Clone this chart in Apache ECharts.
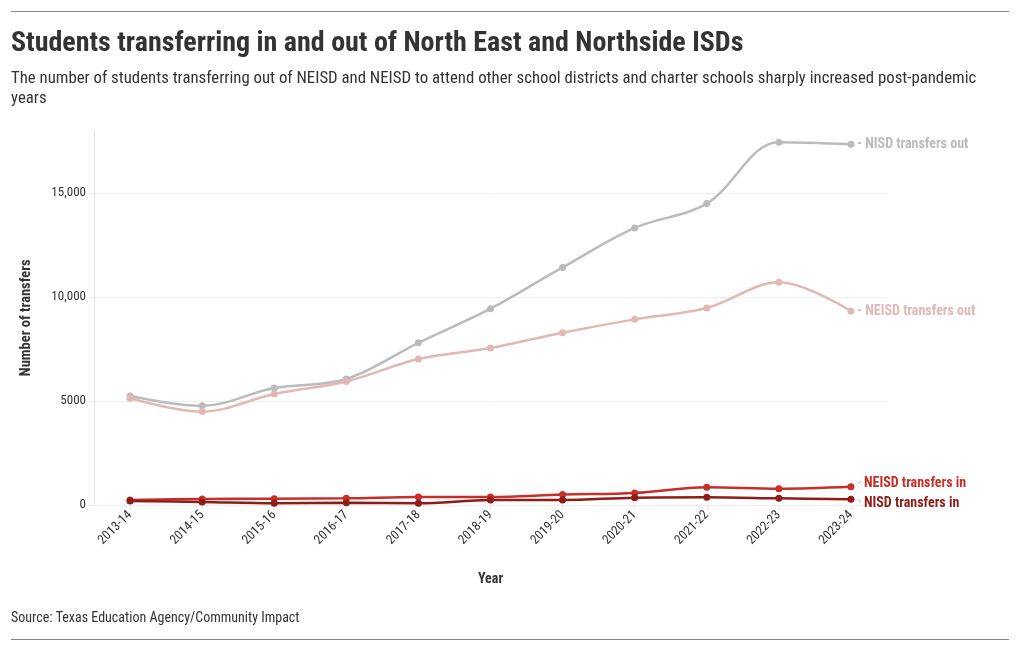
<!DOCTYPE html>
<html>
<head>
<meta charset="utf-8">
<script src="https://cdn.jsdelivr.net/npm/echarts@6/dist/echarts.min.js"></script>
<style>
html,body{margin:0;padding:0;background:#fff;}
#chart{width:1020px;height:650px;}
</style>
</head>
<body>
<div id="chart"></div>
<script>
const years = ['2013-14','2014-15','2015-16','2016-17','2017-18','2018-19','2019-20','2020-21','2021-22','2022-23','2023-24'];
const nisdOut  = [5240, 4770, 5625, 6060, 7800, 9440, 11420, 13320, 14490, 17440, 17340];
const neisdOut = [5130, 4490, 5335, 5940, 7020, 7550, 8285, 8925, 9470, 10705, 9325];
const neisdIn  = [240, 290, 305, 320, 385, 385, 500, 575, 850, 785, 880];
const nisdIn   = [190, 145, 80, 110, 80, 240, 240, 350, 370, 320, 275];

const FONT = '"Roboto Condensed", "Liberation Sans Narrow", "DejaVu Sans Condensed", Roboto, sans-serif';

function fmt(v){ return v >= 10000 ? v.toLocaleString('en-US') : String(v); }

function mkSeries(name, data, color, offset, text){
  return {
    name, type:'line', data,
    smooth: 0.35,
    symbol:'circle', symbolSize:7,
    lineStyle:{color, width:2.5},
    itemStyle:{color},
    endLabel:{show:true, formatter:text, color:color, fontFamily:FONT, fontWeight:'bold', fontSize:14, distance:6, offset:offset},
    emphasis:{disabled:true}
  };
}

const chart = echarts.init(document.getElementById('chart'), null, {renderer:'canvas'});
chart.setOption({
  animation:false,
  backgroundColor:'#fff',
  textStyle:{fontFamily:FONT},
  graphic:[
    {type:'line', shape:{x1:11,y1:11.5,x2:1009,y2:11.5}, style:{stroke:'#888',lineWidth:1}},
    {type:'line', shape:{x1:11,y1:639.5,x2:1009,y2:639.5}, style:{stroke:'#888',lineWidth:1}},
    {type:'line', shape:{x1:858,y1:484,x2:861,y2:481}, style:{stroke:'#bbb',lineWidth:1}},
    {type:'line', shape:{x1:858,y1:500,x2:861,y2:502}, style:{stroke:'#bbb',lineWidth:1}},
    {type:'text', left:11, top:30, style:{text:'Students transferring in and out of North East and Northside ISDs', font:'bold 28px '+FONT, fill:'#333'}},
    {type:'text', left:11, top:69, style:{text:'The number of students transferring out of NEISD and NEISD to attend other school districts and charter schools sharply increased post-pandemic years', font:'16.8px '+FONT, fill:'#333', width:990, overflow:'break', lineHeight:20}},
    {type:'text', left:11, top:611, style:{text:'Source: Texas Education Agency/Community Impact', font:'14px '+FONT, fill:'#333'}}
  ],
  grid:{left:94, right:133, top:130.6, bottom:145, containLabel:false},
  xAxis:{
    type:'category', data:years, boundaryGap:true,
    name:'Year', nameLocation:'middle', nameGap:67,
    nameTextStyle:{fontFamily:FONT, fontWeight:'bold', fontSize:14, color:'#333'},
    axisLine:{show:false},
    axisTick:{show:true, alignWithLabel:true, length:4, lineStyle:{color:'#e5e5e5'}},
    axisLabel:{rotate:45, fontSize:13, color:'#333', fontFamily:FONT, margin:8, interval:0},
    splitLine:{show:false}
  },
  yAxis:{
    type:'value', min:0, max:18000, interval:5000,
    name:'Number of transfers', nameLocation:'middle', nameGap:60, nameRotate:90,
    nameTextStyle:{fontFamily:FONT, fontWeight:'bold', fontSize:14.5, color:'#333'},
    axisLine:{show:true, lineStyle:{color:'#e5e5e5'}},
    axisTick:{show:true, length:5, lineStyle:{color:'#e5e5e5'}},
    axisLabel:{fontSize:13, color:'#333', fontFamily:FONT, margin:8, showMaxLabel:false, formatter:fmt},
    splitLine:{show:true, showMaxLine:false, lineStyle:{color:'#eeeeee', width:1}}
  },
  series:[
    mkSeries('NISD transfers out', nisdOut, '#bbbbbb', [0,0], '- NISD transfers out'),
    mkSeries('NEISD transfers out', neisdOut, '#e2b8b4', [0,0], '- NEISD transfers out'),
    mkSeries('NEISD transfers in', neisdIn, '#c62f2a', [7,-3], 'NEISD transfers in'),
    mkSeries('NISD transfers in', nisdIn, '#8e1c17', [7,4], 'NISD transfers in')
  ]
});
</script>
</body>
</html>
